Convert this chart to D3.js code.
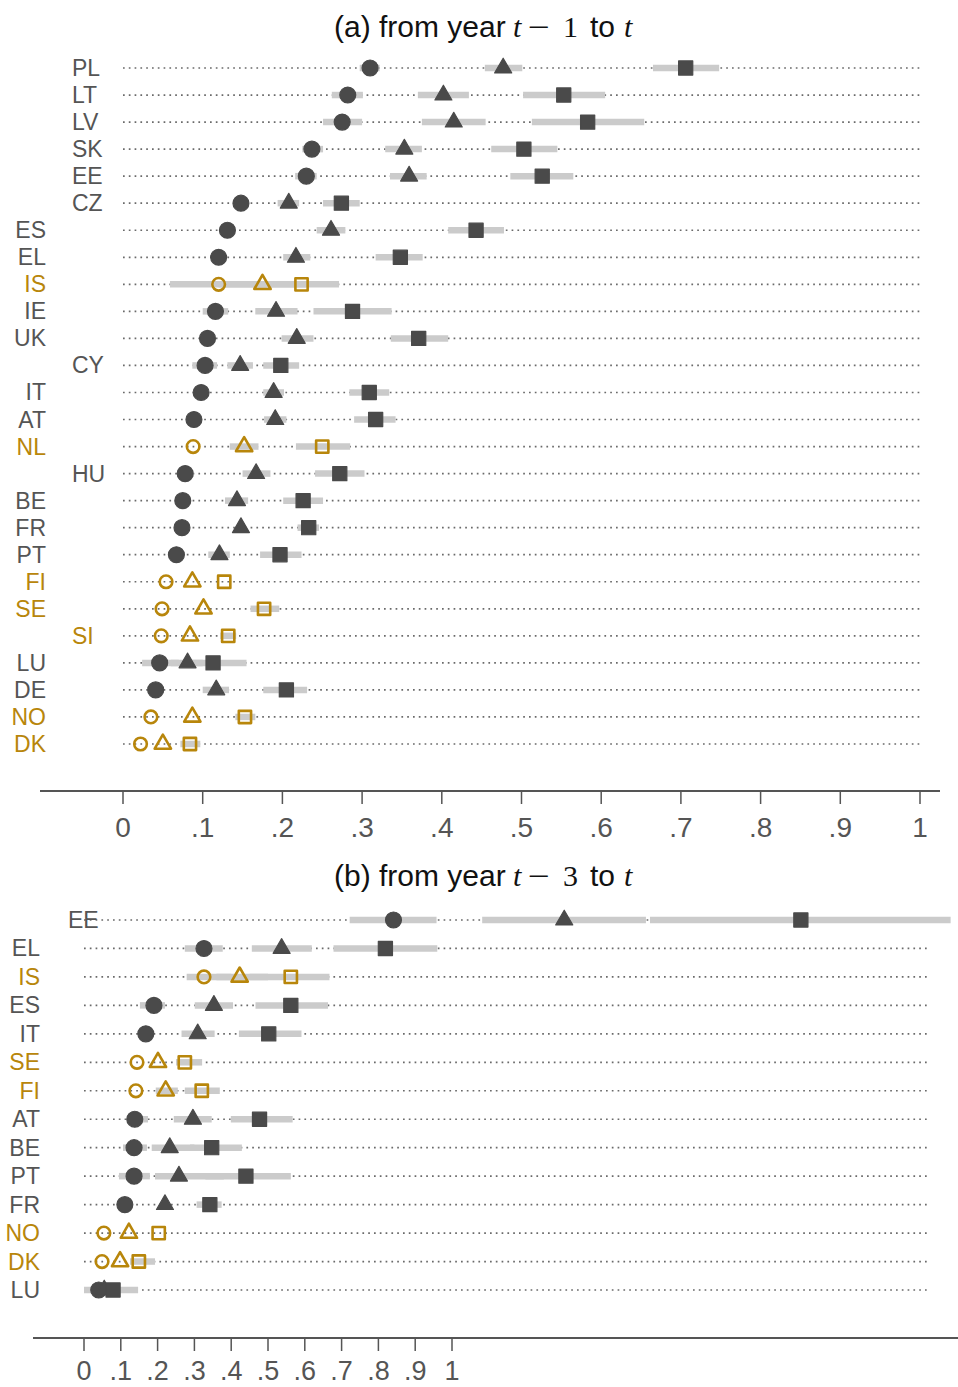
<!DOCTYPE html>
<html><head><meta charset="utf-8">
<script src="https://cdn.jsdelivr.net/npm/d3@7"></script>
<style>
body{margin:0;background:#fff;}
svg{display:block;font-family:"Liberation Sans",Arial,sans-serif;}
</style></head>
<body><svg id="chart" width="958" height="1387"></svg>
<script>
// ---------- Panel (a): from year t-1 to t ----------
const countriesA = ["PL","LT","LV","SK","EE","CZ","ES","EL","IS","IE","UK","CY","IT","AT","NL","HU","BE","FR","PT","FI","SE","SI","LU","DE","NO","DK"];
const indentA   = ["PL","LT","LV","SK","EE","CZ","CY","HU","SI"];
const goldA     = ["IS","NL","FI","SE","SI","NO","DK"];
const circA = [0.310,0.282,0.275,0.237,0.230,0.148,0.131,0.120,0.120,0.116,0.106,0.103,0.098,0.089,0.088,0.078,0.075,0.074,0.067,0.054,0.049,0.048,0.046,0.041,0.035,0.022];
const circLoA = [0.297,0.262,0.251,0.225,0.216,null,0.122,null,0.059,0.100,0.097,0.087,null,null,null,0.068,null,null,null,null,null,null,0.024,0.031,null,null];
const circHiA = [0.322,0.301,0.300,0.251,0.243,null,0.141,null,0.180,0.132,0.116,0.118,null,null,null,0.089,null,null,null,null,null,null,0.070,0.051,null,null];
const triA = [0.477,0.402,0.415,0.353,0.359,0.208,0.261,0.217,0.175,0.192,0.218,0.147,0.189,0.191,0.152,0.167,0.143,0.148,0.121,0.087,0.101,0.084,0.081,0.117,0.087,0.050];
const triLoA = [0.454,0.370,0.375,0.329,0.335,0.194,0.243,0.201,0.120,0.166,0.199,0.131,0.176,0.177,0.134,0.150,0.128,null,0.107,null,null,null,0.060,0.100,null,null];
const triHiA = [0.501,0.434,0.455,0.375,0.381,0.221,0.279,0.235,0.230,0.219,0.239,0.163,0.202,0.205,0.170,0.185,0.157,null,0.134,null,null,null,0.100,0.133,null,null];
const sqA = [0.706,0.553,0.583,0.503,0.526,0.274,0.443,0.348,0.224,0.288,0.371,0.198,0.309,0.317,0.250,0.272,0.226,0.233,0.197,0.127,0.177,0.132,0.113,0.205,0.153,0.084];
const sqLoA = [0.665,0.502,0.513,0.462,0.486,0.251,0.408,0.317,0.170,0.239,0.336,0.176,0.284,0.290,0.217,0.241,0.201,0.219,0.172,null,0.160,0.122,0.080,0.176,0.141,0.072];
const sqHiA = [0.748,0.605,0.654,0.545,0.565,0.297,0.478,0.376,0.271,0.337,0.408,0.221,0.334,0.342,0.285,0.303,0.251,0.246,0.224,null,0.196,0.142,0.155,0.231,0.166,0.097];

// ---------- Panel (b): from year t-3 to t ----------
const countriesB = ["EE","EL","IS","ES","IT","SE","FI","AT","BE","PT","FR","NO","DK","LU"];
const indentB   = ["EE"];
const goldB     = ["IS","SE","FI","NO","DK"];
const circB = [0.841,0.326,0.326,0.190,0.168,0.144,0.141,0.138,0.136,0.136,0.111,0.054,0.049,0.040];
const circLoB = [0.722,0.274,0.279,0.152,null,null,null,0.117,0.106,0.095,null,null,null,0.000];
const circHiB = [0.958,0.377,0.400,0.220,null,null,null,0.174,0.171,0.179,null,null,null,0.060];
const triB = [1.305,0.537,0.423,0.353,0.309,0.201,0.222,0.296,0.233,0.258,0.220,0.122,0.098,0.055];
const triLoB = [1.082,0.456,0.360,0.301,0.265,null,0.195,0.244,0.184,0.193,null,null,null,0.030];
const triHiB = [1.527,0.619,0.500,0.405,0.355,null,0.255,0.347,0.300,0.380,null,null,null,0.090];
const sqB = [1.948,0.819,0.562,0.562,0.502,0.274,0.320,0.477,0.347,0.440,0.342,0.203,0.149,0.079];
const sqLoB = [1.538,0.678,0.450,0.466,0.421,0.250,0.274,0.399,0.288,0.330,0.306,null,0.125,0.050];
const sqHiB = [2.355,0.960,0.667,0.663,0.591,0.321,0.369,0.567,0.429,0.562,0.374,null,0.193,0.147];

const ticks = [0,0.1,0.2,0.3,0.4,0.5,0.6,0.7,0.8,0.9,1];
const tickFmt = d => d === 0 ? "0" : d === 1 ? "1" : String(d.toFixed(1)).replace(/^0/, "");

const DARK = "#4a4a4a", GOLD = "#b8860b", LABEL = "#555555", CI = "#cbcbcb";
const SERIF = "'Liberation Serif','Times New Roman',serif";
const svg = d3.select("#chart");

function panel(cfg){
  const g = svg.append("g");
  const x = d3.scaleLinear().domain([0,1]).range(cfg.xr);
  const y = d3.scalePoint().domain(cfg.countries).range(cfg.yr);
  // title
  const t = g.append("text").attr("y", cfg.titleY).attr("font-size",30).attr("fill","#111");
  t.append("tspan").attr("x",334).text(cfg.titlePre);
  t.append("tspan").attr("x",513).attr("font-family",SERIF).attr("font-style","italic").text("t");
  t.append("tspan").attr("x",528).attr("font-family",SERIF)
    .attr("textLength",22).attr("lengthAdjust","spacingAndGlyphs").text("\u2212");
  t.append("tspan").attr("x",563).attr("font-family",SERIF).text(cfg.lag);
  t.append("tspan").attr("x",590).text("to");
  t.append("tspan").attr("x",624).attr("font-family",SERIF).attr("font-style","italic").text("t");

  // dotted lines
  g.selectAll("line.dot").data(cfg.countries).join("line")
    .attr("x1", x(0)).attr("x2", cfg.dotEnd)
    .attr("y1", d => y(d)).attr("y2", d => y(d))
    .attr("stroke","#6a6a6a").attr("stroke-width",1.7)
    .attr("stroke-dasharray","1.7,4.1");

  // labels
  g.selectAll("text.lab").data(cfg.countries).join("text")
    .attr("x", d => cfg.indent.includes(d) ? cfg.labIndentX : cfg.labX)
    .attr("y", d => y(d) + 8)
    .attr("text-anchor", d => cfg.indent.includes(d) ? "start" : "end")
    .attr("font-size", 23)
    .attr("fill", d => cfg.gold.includes(d) ? GOLD : LABEL)
    .text(d => d);

  // CI bars
  const series = [
    {v:cfg.circ, lo:cfg.circLo, hi:cfg.circHi, sym:d3.symbolCircle},
    {v:cfg.tri, lo:cfg.triLo, hi:cfg.triHi, sym:d3.symbolTriangle},
    {v:cfg.sq, lo:cfg.sqLo, hi:cfg.sqHi, sym:d3.symbolSquare}
  ];
  series.forEach(s => {
    const data = cfg.countries.map((c,i) => ({c, lo:s.lo[i], hi:s.hi[i]})).filter(d => d.lo != null);
    g.selectAll(null).data(data).join("line")
      .attr("x1", d => x(d.lo)).attr("x2", d => x(d.hi))
      .attr("y1", d => y(d.c)).attr("y2", d => y(d.c))
      .attr("stroke", CI).attr("stroke-width", 6.5).attr("stroke-linecap","butt");
  });
  // markers
  series.forEach((s,k) => {
    const data = cfg.countries.map((c,i) => ({c, v:s.v[i]}));
    g.selectAll(null).data(data).join("path")
      .attr("transform", d => `translate(${x(d.v)},${y(d.c)})`)
      .attr("d", d => {
        const hol = cfg.gold.includes(d.c);
        const sz = k===0 ? (hol?125:200) : k===1 ? (hol?115:125) : (hol?150:200);
        return d3.symbol().type(s.sym).size(sz)();
      })
      .attr("fill", d => cfg.gold.includes(d.c) ? "none" : DARK)
      .attr("stroke", d => cfg.gold.includes(d.c) ? GOLD : DARK)
      .attr("stroke-width", d => cfg.gold.includes(d.c) ? 2.6 : 1.2)
      .attr("stroke-linejoin","round");
  });

  // axis
  g.append("line").attr("x1", cfg.axX[0]).attr("x2", cfg.axX[1])
    .attr("y1", cfg.axY).attr("y2", cfg.axY).attr("stroke","#555").attr("stroke-width",2);
  g.selectAll("line.tk").data(ticks).join("line")
    .attr("x1", d => x(d)).attr("x2", d => x(d))
    .attr("y1", cfg.axY).attr("y2", cfg.axY + 13)
    .attr("stroke","#555").attr("stroke-width",1.5);
  g.selectAll("text.tl").data(ticks).join("text")
    .attr("x", d => x(d)).attr("y", cfg.tickY)
    .attr("text-anchor","middle").attr("font-size",cfg.tickFs).attr("fill","#555")
    .text(tickFmt);
}

panel({countries:countriesA, indent:indentA, gold:goldA,
  circ:circA, circLo:circLoA, circHi:circHiA, tri:triA, triLo:triLoA, triHi:triHiA, sq:sqA, sqLo:sqLoA, sqHi:sqHiA,
  xr:[123,920], yr:[68,744], dotEnd:920, labX:46, labIndentX:72,
  titleY:37, titlePre:"(a) from year", lag:"1",
  axX:[40,940], axY:791, tickY:837, tickFs:28});

panel({countries:countriesB, indent:indentB, gold:goldB,
  circ:circB, circLo:circLoB, circHi:circHiB, tri:triB, triLo:triLoB, triHi:triHiB, sq:sqB, sqLo:sqLoB, sqHi:sqHiB,
  xr:[84,452], yr:[920,1290], dotEnd:930, labX:40, labIndentX:68,
  titleY:886, titlePre:"(b) from year", lag:"3",
  axX:[33,958], axY:1338, tickY:1380, tickFs:27});
</script></body></html>
